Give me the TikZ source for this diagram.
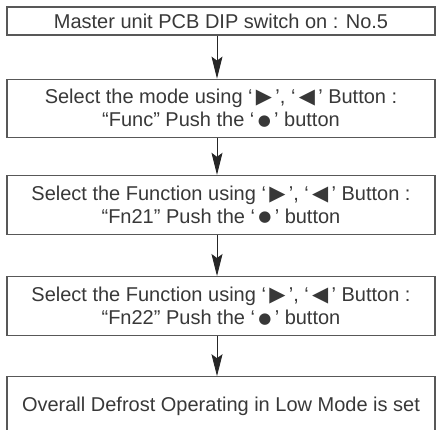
\documentclass[tikz,border=0pt]{standalone}
\usepackage{fontspec}
\setmainfont{Liberation Sans}
\newfontfamily\symfont{DejaVu Sans}
\usepackage{tikz}
\usetikzlibrary{positioning, arrows.meta}
\definecolor{linegray}{HTML}{585858}
\definecolor{textgray}{HTML}{383838}
\newcommand{\sym}[1]{\,{\symfont\fontsize{21}{23}\selectfont #1}\,}
\newcommand{\dotsym}{\,\raisebox{1.5pt}{\symfont\fontsize{15}{23}\selectfont ●}\,}
\tikzset{
    base/.style={draw=linegray, line width=1.2pt, align=center, text=textgray, font=\fontsize{20}{23}\selectfont},
    box/.style={base, rectangle, minimum width=428pt, minimum height=58pt, inner sep=2pt},
    arrow/.style={-{Stealth[length=22pt, width=11pt, inset=4pt]}, line width=0.9pt, draw=black!85}
}

\begin{document}
\begin{tikzpicture}
    \useasboundingbox (0,0) rectangle (442pt,-429pt);
    % Nodes
    \node [box, minimum height=28pt] (dip) at (221pt,-21pt) {Master unit PCB DIP switch on : No.5};
    \node [box, below=43pt of dip] (mode) {Select the mode using ‘\sym{▶}’, ‘\sym{◀}’ Button :\\ “Func” Push the ‘\dotsym’ button};
    \node [box, minimum height=59pt, below=37pt of mode] (fn21) {Select the Function using ‘\sym{▶}’, ‘\sym{◀}’ Button :\\ “Fn21” Push the ‘\dotsym’ button};
    \node [box, minimum height=59pt, below=41pt of fn21] (fn22) {Select the Function using ‘\sym{▶}’, ‘\sym{◀}’ Button :\\ “Fn22” Push the ‘\dotsym’ button};
    \node [box, minimum height=60pt, below=40pt of fn22] (lowset) {Overall Defrost Operating in Low Mode is set};

    % Connections
    \draw [arrow] ([xshift=-4pt]dip.south) -- ([xshift=-4pt]mode.north);
    \draw [arrow] ([xshift=-4pt]mode.south) -- ([xshift=-4pt]fn21.north);
    \draw [arrow] ([xshift=-4pt]fn21.south) -- ([xshift=-4pt]fn22.north);
    \draw [arrow] ([xshift=-4pt]fn22.south) -- ([xshift=-4pt]lowset.north);
\end{tikzpicture}
\end{document}
